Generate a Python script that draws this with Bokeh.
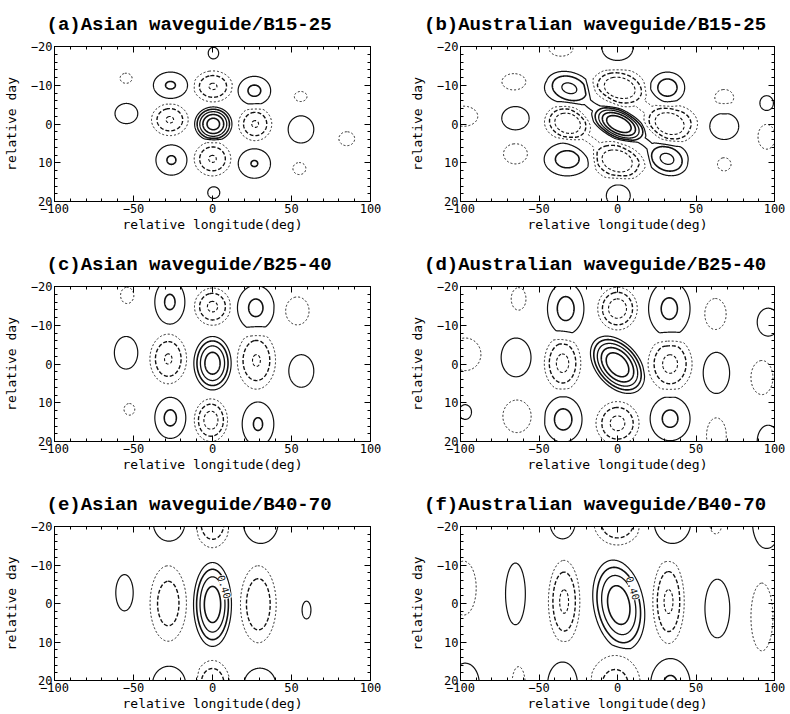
import numpy as np
import contourpy
from bokeh.plotting import figure
from bokeh.layouts import column, row
from bokeh.models import Range1d, LinearAxis, FixedTicker, Label
from bokeh.embed import file_html
from bokeh.resources import INLINE

# ---------------- data ----------------
# contour values drawn
LEVELS = [-0.3, -0.2, -0.1, 0.1, 0.2, 0.3, 0.4, 0.5]
X_TICKS = [-100, -50, 0, 50, 100]
Y_TICKS = [-20, -10, 0, 10, 20]
X_MINOR = list(range(-100, 101, 10))
Y_MINOR = list(range(-20, 21, 2))

TITLES = ["(a)Asian waveguide/B15-25", "(b)Australian waveguide/B15-25",
          "(c)Asian waveguide/B25-40", "(d)Australian waveguide/B25-40",
          "(e)Asian waveguide/B40-70", "(f)Australian waveguide/B40-70"]

# centres of the correlation cells: longitude (deg), day, peak value,
# half width (deg) / half height (day) of their outer (+-0.1) contour, tilt (deg)
A_LON = [0.6, 0.8, -54.7, -26.6, 0.3, 26.5, 55.8, -54.5, -27.0, 0.5, 27.0, 56.0, 85.0, -26.0, 0.0, 26.5, 55.0]
A_DAY = [-18.3, 17.7, -11.8, -10.0, -9.7, -8.6, -7.1, -2.7, -1.1, 0.0, 0.0, 1.4, 3.8, 9.3, 9.0, 10.2, 11.5]
A_PEAK = [0.14, 0.14, -0.14, 0.21, -0.31, 0.22, -0.14, 0.15, -0.31, 0.56, -0.31, 0.15, -0.14, 0.21, -0.31, 0.205, -0.14]
A_HW = [3.3, 3.8, 3.8, 10.8, 12.3, 10.3, 4.0, 7.2, 11.6, 11.8, 10.5, 8.1, 5.0, 9.8, 11.6, 10.2, 4.1]
A_HH = [1.5, 1.5, 1.3, 3.4, 4.0, 3.7, 1.3, 2.6, 4.1, 4.4, 4.3, 3.5, 1.8, 3.9, 4.4, 3.8, 1.55]
A_TILT = [0] * 17

B_LON = [-36, 0, -66, -98, -32.5, 0, 31.8, 68, 95, -65, -32.5, 1, 35, 68, 95, -65, -32, 1.5, 33, 68, 0.5,
         -16, 17, 17, -16]
B_DAY = [-19.5, -19.5, -10.9, -2, -9.4, -9.6, -9.4, -6.8, -5.4, -1.5, -0.5, 0, 0, 0.6, 3.3, 7.7, 9.1, 9.7, 9.1, 10.4, 18.5,
         -5, 5, -4.5, 5]
B_PEAK = [-0.14, 0.14, -0.14, -0.14, 0.25, -0.34, 0.25, -0.14, 0.14, 0.15, -0.34, 0.49, -0.34, 0.15, -0.14, -0.14, 0.24,
          -0.34, 0.25, -0.14, 0.14, 0.11, 0.11, -0.11, -0.11]
B_HW = [7.6, 9.8, 7.6, 9, 14, 17.4, 11, 6, 4.3, 8.7, 14, 16.5, 16, 9.2, 5.5, 7.6, 14.7, 16.8, 12, 4.3, 7.6,
        10, 10, 10, 10]
B_HH = [2.0, 3.1, 2.1, 2.6, 4.0, 4.7, 4.0, 2.1, 1.9, 3.0, 4.5, 3.75, 4.9, 3.4, 3.2, 2.6, 4.3, 4.9, 4.0, 1.7, 2.8,
        1.3, 1.3, 1.3, 1.3]
B_TILT = [0] * 11 + [22] + [0] * 9 + [37, 37, 37, 37]

C_LON = [-54, -27, 0, 27.4, 53.7, -54.7, -28, 0, 27.8, 56.2, -52.6, -26.7, -1, 28.8]
C_DAY = [-17.7, -16, -14.8, -14.5, -13.7, -2.9, -1.3, -0.2, -0.9, 1.8, 11.7, 13.9, 14.5, 15.5]
C_PEAK = [-0.14, 0.215, -0.32, 0.22, -0.14, 0.14, -0.31, 0.47, -0.31, 0.14, -0.14, 0.22, -0.35, 0.21]
C_HW = [4.2, 9.5, 11.4, 11.6, 7.4, 7.4, 11.6, 11.8, 12.1, 7.9, 3.4, 9.8, 10.5, 10]
C_HH = [2.1, 5.7, 4.8, 5.8, 3.6, 4.2, 6.4, 6.9, 7.4, 4.2, 1.5, 5.3, 5.5, 5.7]
C_TILT = [0] * 14

D_LON = [-97, -63, -33, 0, 33, 62.4, 96, -64.6, -35, 0, 33.5, 63, 92, -97, -64, -34.6, 0, 33.5, 63, 96]
D_DAY = [-2.5, -16.8, -14.3, -14.3, -14.3, -12.9, -10.8, -1.7, -0.2, 0.2, 0, 2.3, 3.5, 12.4, 13.5, 14.3, 15.3, 14.1, 18.5, 20]
D_PEAK = [-0.14, -0.14, 0.23, -0.36, 0.22, -0.14, 0.14, 0.15, -0.33, 0.6, -0.33, 0.15, -0.14, 0.14, -0.14, 0.23, -0.33,
          0.22, -0.14, 0.14]
D_HW = [10, 4.7, 11.6, 12.6, 13.2, 6.8, 7, 9.5, 11.6, 21.2, 14, 8.4, 7, 4, 9, 12, 13.7, 12.7, 6.3, 7]
D_HH = [4.2, 2.9, 6.7, 5.5, 7.1, 4, 3.6, 5, 7, 5.5, 7, 5.3, 4.4, 1.9, 4.2, 5.9, 5.6, 5.7, 4.6, 4.2]
D_TILT = [0] * 9 + [50] + [0] * 10

E_LON = [0, -28, 29, -55.7, 59.5, -27.5, 0, 30.5, -27.5, 0, 30]
E_DAY = [0.25, 0, 0.2, -2.8, 1.7, -21, -21, -21, 21, 21, 21]
E_PEAK = [0.48, -0.26, -0.29, 0.14, 0.12, 0.14, -0.29, 0.14, 0.14, -0.29, 0.14]
E_HW = [12, 11.5, 11.3, 5.5, 2.8, 10, 11, 11, 10.5, 11, 10]
E_HH = [10.9, 9.8, 10, 4.7, 2.3, 4.8, 6.5, 5.4, 4.7, 6.2, 4.2]
E_TILT = [0] * 11

F_LON = [0.8, -34, 32.5, -65, 63.6, -98, 92, -35, 0, 35, 62.6, 95, -97, -63, -35, -1.5, 33.7]
F_DAY = [0.4, -0.5, -0.5, -2.5, 1.3, -4, 3.5, -21, -21, -21, -20.5, -21, 21, 21, 21, 21, 21]
F_PEAK = [0.48, -0.32, -0.32, 0.14, 0.14, -0.14, -0.14, 0.14, -0.3, 0.14, -0.14, 0.14, 0.14, -0.14, 0.14, -0.24, 0.215]
F_HW = [16, 10, 10, 6.3, 7.9, 8, 7, 8, 15, 11.6, 3.7, 9, 9, 4.2, 9.5, 16, 12.6]
F_HH = [11.8, 10.7, 10.9, 8, 7.6, 7, 8.8, 4.2, 5.8, 5.4, 2.4, 6.7, 5.5, 4.6, 5.8, 7.5, 6.7]
F_TILT = [-10] + [0] * 16

# contour labels "0.40" (lon, day) in panels e and f
E_LABEL = (7.7, -4.3)
F_LABEL = (10.0, -4.0)

# ---------------- styles ----------------
STYLE = {-0.3: ("3 2", 1.1), -0.2: ("4 2", 1.4), -0.1: ("2 2", 1.0),
         0.1: ("solid", 1.2), 0.2: ("solid", 1.6), 0.3: ("solid", 1.3),
         0.4: ("solid", 1.6), 0.5: ("solid", 1.6)}
INK = "#111111"
SX, SY = 1.6, 4.0  # screen px per degree / per day, for tilting cells

GX = np.linspace(-100, 100, 801)
GY = np.linspace(-20, 20, 321)


def field(lon, day, peak, hw, hh, tilt):
    X, Y = np.meshgrid(GX, GY)
    Z = np.zeros_like(X)
    for x0, y0, a, w, h, t in zip(lon, day, peak, hw, hh, tilt):
        c = (2 / np.pi) * np.arccos(0.1 / abs(a))
        th = np.radians(t)
        dx = (X - x0) * SX
        dy = (Y - y0) * SY
        u = (dx * np.cos(th) + dy * np.sin(th)) / (w * SX)
        v = (-dx * np.sin(th) + dy * np.cos(th)) / (h * SY)
        r = np.sqrt(u * u + v * v) * c
        Z += np.where(r < 1, a * np.cos(np.pi / 2 * np.minimum(r, 1)), 0.0)
    return Z


def axis_style(ax, show_labels=True):
    ax.axis_line_color = "black"
    ax.axis_line_width = 1
    ax.major_tick_in = 6
    ax.major_tick_out = 0
    ax.minor_tick_in = 3
    ax.minor_tick_out = 0
    ax.major_tick_line_color = "black"
    ax.minor_tick_line_color = "black"
    if show_labels:
        ax.major_label_text_font = "DejaVu Sans Mono"
        ax.major_label_text_font_size = "12px"
        ax.major_label_text_color = "black"
        ax.major_label_standoff = 2
        ax.axis_label_text_font = "DejaVu Sans Mono"
        ax.axis_label_text_font_size = "13px"
        ax.axis_label_text_font_style = "normal"
        ax.axis_label_text_color = "black"
        ax.axis_label_standoff = 1
    else:
        ax.major_label_text_font_size = "1px"
        ax.major_label_text_color = None
        ax.major_label_standoff = 0


TITLE_FS = 19
FRAME_W = 319


def panel(title, data, width, height, bl, bt, bb, label=None):
    br = width - bl - FRAME_W
    p = figure(width=width, height=height, x_range=Range1d(-100, 100), y_range=Range1d(20, -20),
               output_backend="svg", toolbar_location=None,
               min_border_left=bl, min_border_right=br, min_border_top=bt, min_border_bottom=bb,
               background_fill_color="white", border_fill_color="white",
               outline_line_color="black", outline_line_width=1)
    p.grid.visible = False
    p.xaxis.ticker = FixedTicker(ticks=X_TICKS, minor_ticks=X_MINOR)
    p.yaxis.ticker = FixedTicker(ticks=Y_TICKS, minor_ticks=Y_MINOR)
    p.xaxis.axis_label = "relative longitude(deg)"
    p.yaxis.axis_label = "relative day"
    for ax in p.xaxis + p.yaxis:
        axis_style(ax)
    p.yaxis.axis_label_standoff = 9
    top = LinearAxis(ticker=FixedTicker(ticks=X_TICKS, minor_ticks=X_MINOR))
    axis_style(top, False)
    p.add_layout(top, "above")
    right = LinearAxis(ticker=FixedTicker(ticks=Y_TICKS, minor_ticks=Y_MINOR))
    axis_style(right, False)
    p.add_layout(right, "right")

    p.title.text = title
    p.title.text_font = "Liberation Mono"
    p.title.text_font_size = f"{TITLE_FS}px"
    p.title.text_font_style = "bold"
    p.title.text_color = "black"
    p.title.align = "left"
    p.title.offset = FRAME_W / 2 - 25 - len(title) * 0.6 * TITLE_FS / 2
    p.title.standoff = 22

    Z = field(*data)
    gen = contourpy.contour_generator(GX, GY, Z)
    for lev in LEVELS:
        lines = gen.lines(lev)
        if not lines:
            continue
        dash, lw = STYLE[lev]
        p.multi_line([ln[:, 0] for ln in lines], [ln[:, 1] for ln in lines],
                     line_color=INK, line_width=lw, line_dash=dash, line_join="round")
    if label is not None:
        p.add_layout(Label(x=label[0], y=label[1], text="0.40", angle=-73, angle_units="deg",
                           text_font="DejaVu Sans Mono", text_font_size="10px", text_align="center",
                           text_baseline="middle", text_color=INK,
                           background_fill_color="white", background_fill_alpha=1.0))
    return p


LW, RW = 406, 384
pa = panel(TITLES[0], (A_LON, A_DAY, A_PEAK, A_HW, A_HH, A_TILT), LW, 240, 51, 44, 39)
pb = panel(TITLES[1], (B_LON, B_DAY, B_PEAK, B_HW, B_HH, B_TILT), RW, 240, 49, 44, 39)
pc = panel(TITLES[2], (C_LON, C_DAY, C_PEAK, C_HW, C_HH, C_TILT), LW, 240, 51, 44, 39)
pd = panel(TITLES[3], (D_LON, D_DAY, D_PEAK, D_HW, D_HH, D_TILT), RW, 240, 49, 44, 39)
pe = panel(TITLES[4], (E_LON, E_DAY, E_PEAK, E_HW, E_HH, E_TILT), LW, 233, 51, 44, 32, E_LABEL)
pf = panel(TITLES[5], (F_LON, F_DAY, F_PEAK, F_HW, F_HH, F_TILT), RW, 233, 49, 44, 32, F_LABEL)

layout = column(row(pa, pb), row(pc, pd), row(pe, pf))
open("out.html", "w").write(file_html(layout, INLINE))
